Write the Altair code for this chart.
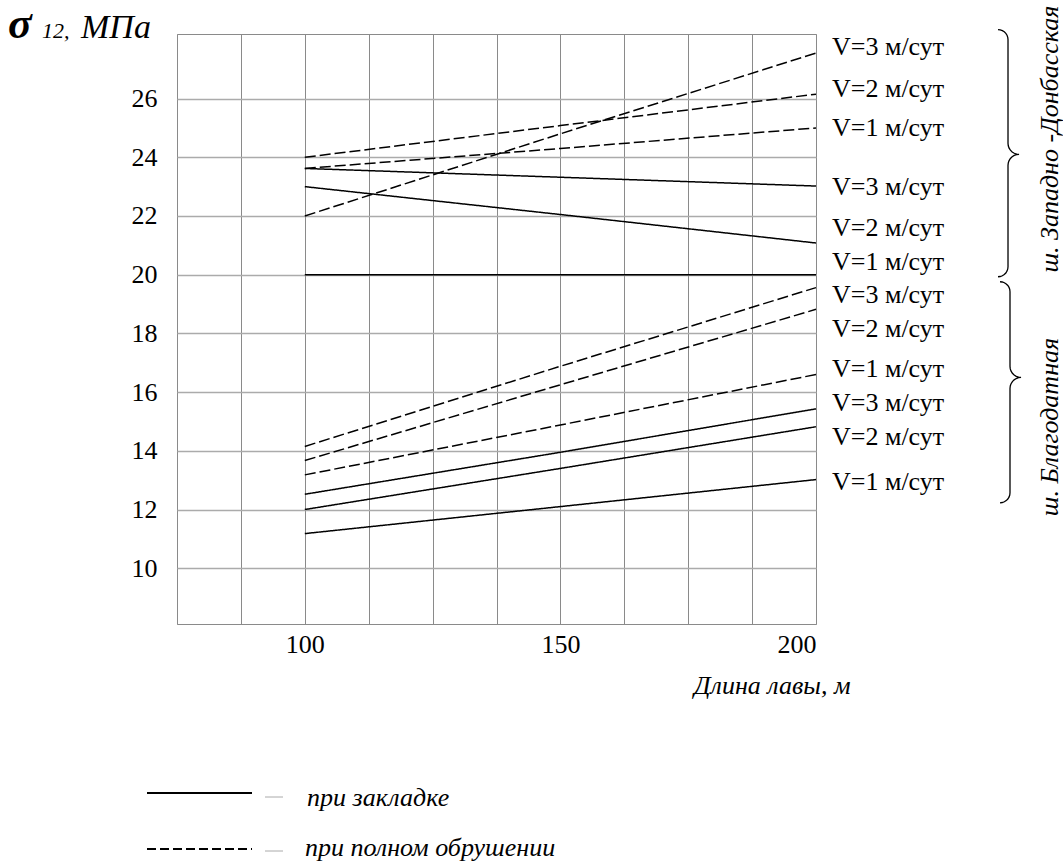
import altair as alt
import pandas as pd
import numpy as np

# ---------------- data ----------------
lengths = [100, 150, 200]

zd_dashed_v3 = [22.0, 24.8, 27.55]
zd_dashed_v2 = [24.0, 25.08, 26.15]
zd_dashed_v1 = [23.62, 24.3, 25.0]
zd_solid_v3 = [23.62, 23.32, 23.02]
zd_solid_v2 = [23.0, 22.05, 21.08]
zd_solid_v1 = [20.0, 20.0, 20.0]

bl_dashed_v3 = [14.15, 16.88, 19.56]
bl_dashed_v2 = [13.67, 16.25, 18.82]
bl_dashed_v1 = [13.18, 14.88, 16.6]
bl_solid_v3 = [12.52, 13.95, 15.43]
bl_solid_v2 = [12.0, 13.4, 14.82]
bl_solid_v1 = [11.18, 12.1, 13.02]

series = {
    "zd_d3": ("dashed", zd_dashed_v3),
    "zd_d2": ("dashed", zd_dashed_v2),
    "zd_d1": ("dashed", zd_dashed_v1),
    "zd_s3": ("solid", zd_solid_v3),
    "zd_s2": ("solid", zd_solid_v2),
    "zd_s1": ("solid", zd_solid_v1),
    "bl_d3": ("dashed", bl_dashed_v3),
    "bl_d2": ("dashed", bl_dashed_v2),
    "bl_d1": ("dashed", bl_dashed_v1),
    "bl_s3": ("solid", bl_solid_v3),
    "bl_s2": ("solid", bl_solid_v2),
    "bl_s1": ("solid", bl_solid_v1),
}

label_texts = ["V=3 м/сут", "V=2 м/сут", "V=1 м/сут",
               "V=3 м/сут", "V=2 м/сут", "V=1 м/сут",
               "V=3 м/сут", "V=2 м/сут", "V=1 м/сут",
               "V=3 м/сут", "V=2 м/сут", "V=1 м/сут"]
label_y = [27.77, 26.33, 25.0, 22.99, 21.59, 20.43,
           19.31, 18.15, 16.79, 15.63, 14.47, 12.94]

group_names = ["ш. Западно -Донбасская", "ш. Благодатная"]
group_center_y = [24.62, 14.81]
# brace extents (data units): top, bottom, tip, stem x
brace_top = [28.35, 19.76]
brace_bot = [19.93, 12.23]
brace_tip = [24.1, 16.5]
brace_stem = [237.56, 237.95]

legend_texts = ["при закладке", "при полном обрушении"]

y_tick_values = [10, 12, 14, 16, 18, 20, 22, 24, 26]

# ---------------- layout ----------------
W, H = 639, 590
XMIN, XMAX = 75, 200
YMIN, YMAX = 8.1, 28.2
FONT = "Liberation Serif, Times New Roman, serif"

rows = []
for name, (style, vals) in series.items():
    for x, y in zip(lengths, vals):
        rows.append({"x": x, "y": y, "series": name, "style": style})
df_lines = pd.DataFrame(rows)

x_grid = [XMIN + 12.5 * i for i in range(11)]

x_axis = alt.Axis(values=x_grid, grid=True, gridColor="#8a8a8a", gridWidth=1,
                  domain=False, ticks=False, labelFont=FONT, labelFontSize=26,
                  labelColor="black", labelPadding=7,
                  labelExpr="datum.value % 50 === 0 ? datum.label : ''",
                  title="Длина лавы, м", titleFont=FONT, titleFontSize=26,
                  titleFontStyle="italic", titleFontWeight="normal",
                  titleColor="black", titleX=673, titleY=69, titleAlign="right",
                  titleBaseline="alphabetic")
y_axis = alt.Axis(values=y_tick_values, grid=True, gridColor="#ababab", gridWidth=1.4,
                  domain=False, ticks=False, labelFont=FONT, labelFontSize=26,
                  labelColor="black", labelPadding=20, title=None)

x_scale = alt.Scale(domain=[XMIN, XMAX], nice=False, zero=False)
y_scale = alt.Scale(domain=[YMIN, YMAX], nice=False, zero=False)


def X(field="x"):
    return alt.X(f"{field}:Q", scale=x_scale, axis=x_axis)


def Y(field="y"):
    return alt.Y(f"{field}:Q", scale=y_scale, axis=y_axis)


lines = alt.Chart(df_lines).mark_line(color="black", strokeWidth=1.5).encode(
    x=X(), y=Y(), detail="series:N",
    strokeDash=alt.StrokeDash("style:N",
                              scale=alt.Scale(domain=["solid", "dashed"], range=[[1, 0], [11, 4]]),
                              legend=None),
)

df_labels = pd.DataFrame({"t": label_texts, "y": label_y})
labels = alt.Chart(df_labels).mark_text(
    align="left", baseline="middle", font=FONT, fontSize=26, color="black"
).encode(x=alt.value(W + 16), y=Y(), text="t:N")

# braces
sx = (XMAX - XMIN) / W
sy = (YMAX - YMIN) / H


def arc(cx, cy, r, th0, th1, n=8):
    th = np.radians(np.linspace(th0, th1, n))
    return [(cx + r * np.cos(t) * sx, cy - r * np.sin(t) * sy) for t in th]


brows = []
for b in range(2):
    xs, yt, yb, ym = brace_stem[b], brace_top[b], brace_bot[b], brace_tip[b]
    rh, rt = 10, 11
    pts = []
    pts += arc(xs - rh * sx, yt - rh * sy, rh, -90, 0)
    pts += arc(xs + rt * sx, ym + rt * sy, rt, 180, 90)
    pts += arc(xs + rt * sx, ym - rt * sy, rt, 270, 180)
    pts += arc(xs - rh * sx, yb + rh * sy, rh, 0, 90)
    for i, (px, py) in enumerate(pts):
        brows.append({"x": px, "y": py, "o": i, "b": b})
df_brace = pd.DataFrame(brows)
braces = alt.Chart(df_brace).mark_line(color="black", strokeWidth=1.3, clip=False).encode(
    x=X(), y=Y(), detail="b:N", order="o:Q"
)

df_groups = pd.DataFrame({"t": group_names, "y": group_center_y})
group_labels = alt.Chart(df_groups).mark_text(
    align="center", baseline="middle", angle=270, font=FONT, fontSize=26,
    fontStyle="italic", color="black"
).encode(x=alt.value(873), y=Y(), text="t:N")

one = pd.DataFrame({"a": [0]})
sigma = alt.Chart(one).mark_text(
    text="σ", align="left", baseline="alphabetic", font=FONT, fontSize=44,
    fontWeight="bold", fontStyle="italic", color="black"
).encode(x=alt.value(-169), y=alt.value(4))
sub12 = alt.Chart(one).mark_text(
    text="12,", align="left", baseline="alphabetic", font=FONT, fontSize=22,
    fontStyle="italic", color="black"
).encode(x=alt.value(-135), y=alt.value(4))
mpa = alt.Chart(one).mark_text(
    text="МПа", align="left", baseline="alphabetic", font=FONT, fontSize=34,
    fontStyle="italic", color="black"
).encode(x=alt.value(-96), y=alt.value(4))

leg_solid = alt.Chart(one).mark_rule(color="black", strokeWidth=1.8).encode(
    x=alt.value(-30), x2=alt.value(75), y=alt.value(759))
leg_dashed = alt.Chart(one).mark_rule(color="black", strokeWidth=1.8, strokeDash=[9, 4]).encode(
    x=alt.value(-30), x2=alt.value(75), y=alt.value(815))
leg_dash1 = alt.Chart(one).mark_rule(color="#aaaaaa", strokeWidth=1).encode(
    x=alt.value(88), x2=alt.value(106), y=alt.value(763))
leg_dash2 = alt.Chart(one).mark_rule(color="#aaaaaa", strokeWidth=1).encode(
    x=alt.value(88), x2=alt.value(106), y=alt.value(817))
leg_t1 = alt.Chart(one).mark_text(
    text=legend_texts[0], align="left", baseline="middle", font=FONT, fontSize=26,
    fontStyle="italic", color="black").encode(x=alt.value(130), y=alt.value(764))
leg_t2 = alt.Chart(one).mark_text(
    text=legend_texts[1], align="left", baseline="middle", font=FONT, fontSize=26,
    fontStyle="italic", color="black").encode(x=alt.value(128), y=alt.value(814))

chart = alt.layer(
    lines, labels, braces, group_labels, sigma, sub12, mpa,
    leg_solid, leg_dashed, leg_dash1, leg_dash2, leg_t1, leg_t2
).properties(
    width=W, height=H,
    autosize=alt.AutoSizeParams(type="none"),
    padding={"left": 177, "top": 34, "right": 247, "bottom": 237},
    background="white",
).configure_view(stroke="#8a8a8a", strokeWidth=1)

chart.save("out.html", embed_options={"renderer": "svg", "actions": False})
